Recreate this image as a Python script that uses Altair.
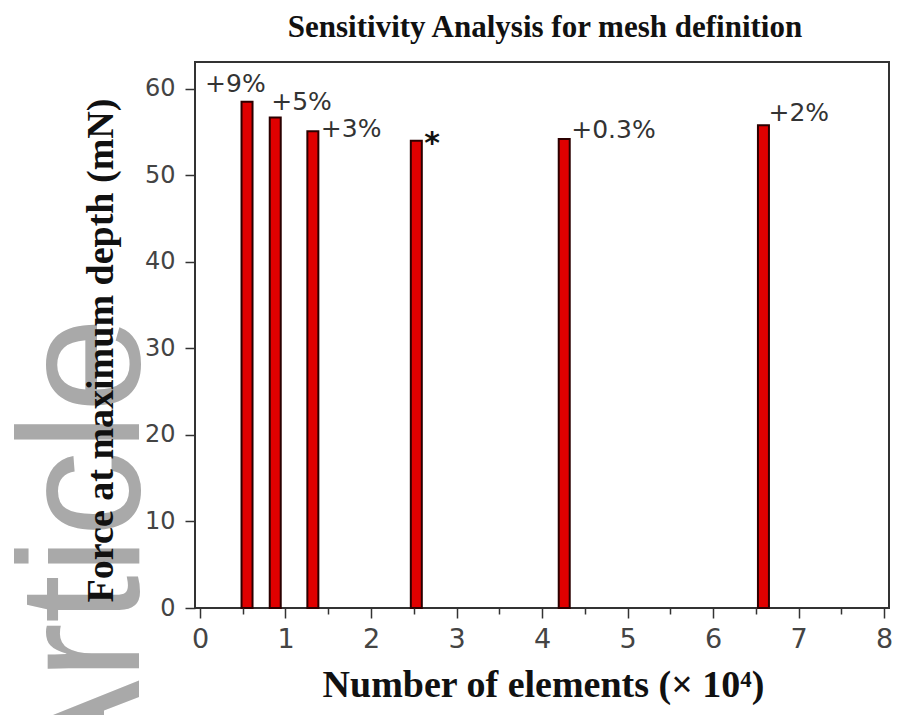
import altair as alt
import pandas as pd

# ---- data ----
elements = [0.55, 0.88, 1.32, 2.53, 4.26, 6.59]      # number of elements (x 10^4)
force = [58.5, 56.7, 55.1, 54.0, 54.2, 55.8]         # force at maximum depth (mN)
labels = ["+9%", "+5%", "+3%", "*", "+0.3%", "+2%"]
x_tick_values = [0, 0.5, 1, 1.5, 2, 2.5, 3, 3.5, 4, 4.5, 5, 5.5, 6, 6.5, 7, 7.5, 8]
y_tick_values = [0, 10, 20, 30, 40, 50, 60]
watermark_text = ["Article"]

df = pd.DataFrame({"elements": elements, "force": force, "label": labels})

# label offsets (pixels) relative to each bar top centre
label_dx = [-42, -4, 8, 8, 7, 5]
label_dy = [-10, -7, 6, 12, -1, -4]

x_scale = alt.Scale(domain=[0, 8], nice=False, zero=False)
y_scale = alt.Scale(domain=[0, 63.1], nice=False)

x_axis = alt.Axis(
    values=x_tick_values,
    labelExpr="datum.value % 1 === 0 ? format(datum.value, 'd') : ''",
    labelOverlap=False,
    labelFlush=False,
    tickSize={"condition": {"test": "datum.value % 1 === 0", "value": 10}, "value": 6},
    tickColor="#333333",
    tickWidth=1.5,
    domain=False,
    grid=False,
    labelFont="DejaVu Sans",
    labelFontSize=27,
    labelColor="#444444",
    labelPadding=8,
    title="Number of elements (× 10⁴)",
    titleFont="Liberation Serif",
    titleFontSize=38,
    titleFontWeight="bold",
    titleColor="#111111",
    titleX=348,
    titleY=77,
    titleAlign="center",
    titleBaseline="middle",
    zindex=1,
)

y_axis = alt.Axis(
    values=y_tick_values,
    labelOverlap=False,
    tickSize=10,
    tickColor="#333333",
    tickWidth=1.5,
    domain=False,
    grid=False,
    labelFont="DejaVu Sans",
    labelFontSize=24,
    labelColor="#444444",
    labelPadding=10,
    title="Force at maximum depth (mN)",
    titleFont="Liberation Serif",
    titleFontSize=38,
    titleFontWeight="bold",
    titleColor="#111111",
    titleAngle=270,
    titleX=-94,
    titleY=288,
    titleAlign="center",
    titleBaseline="middle",
    zindex=1,
)

base = alt.Chart(df)

watermark = alt.Chart(pd.DataFrame({"t": watermark_text})).mark_text(
    angle=270, align="right", baseline="alphabetic",
    font="Liberation Sans", fontSize=172, color="#a9a9a9"
).encode(x=alt.value(-56), y=alt.value(255), text="t:N")

bars = base.mark_bar(
    size=11, orient="vertical", color="#e00000", stroke="#2b0000", strokeWidth=2
).encode(
    x=alt.X("elements:Q", scale=x_scale, axis=x_axis),
    y=alt.Y("force:Q", scale=y_scale, axis=y_axis),
)

layers = [watermark, bars]
for i, lab in enumerate(labels):
    is_star = lab == "*"
    t = base.transform_filter(alt.datum.label == lab).mark_text(
        align="left", baseline="alphabetic",
        dx=label_dx[i], dy=label_dy[i],
        font="DejaVu Sans", fontSize=30 if is_star else 25,
        fontWeight="bold" if is_star else "normal",
        color="#111111" if is_star else "#333333",
    ).encode(
        x=alt.X("elements:Q", scale=x_scale),
        y=alt.Y("force:Q", scale=y_scale),
        text="label:N",
    )
    layers.append(t)

chart = alt.layer(*layers).properties(
    width=694,
    height=546,
    title=alt.TitleParams(
        "Sensitivity Analysis for mesh definition",
        font="Liberation Serif", fontSize=31, fontWeight="bold", color="#111111",
        anchor="middle", dx=3, dy=33, offset=27, baseline="alphabetic", frame="group",
    ),
    autosize=alt.AutoSizeParams(type="none"),
    padding={"left": 195, "top": 62, "right": 10, "bottom": 107},
    background="white",
).configure_view(stroke="#333333", strokeWidth=2)

chart.save("out.html", embed_options={"renderer": "svg", "actions": False})
